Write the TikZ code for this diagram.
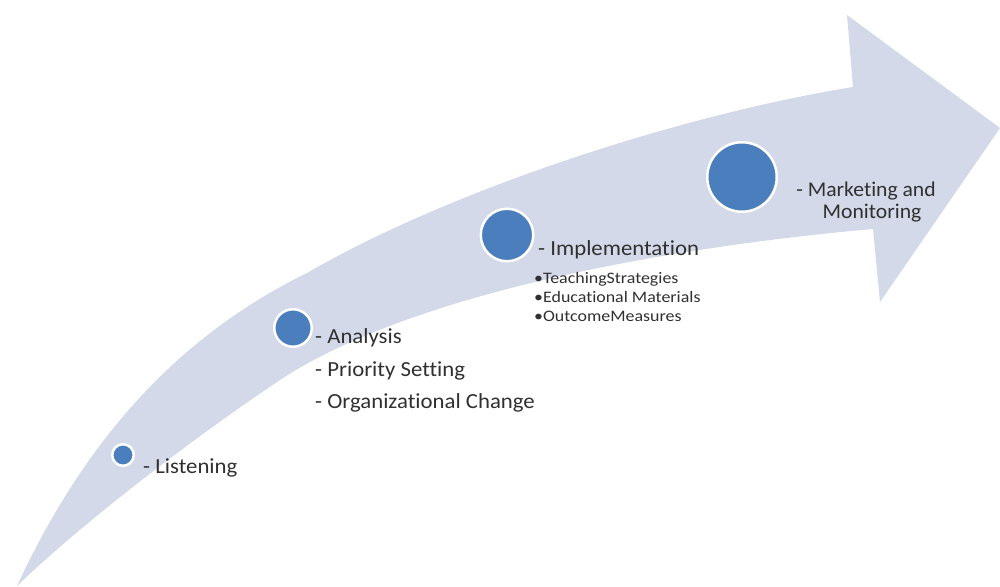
\documentclass[tikz,border=0pt]{standalone}
\usepackage{fontspec}
\setmainfont{Carlito}[Ligatures=NoCommon]
\newfontfamily\mainf{Carlito}[Ligatures=NoCommon,FakeStretch=1.06]
\newfontfamily\subf{Carlito}[Ligatures=NoCommon,FakeStretch=1.12]
\newfontfamily\markf{Carlito}[Ligatures=NoCommon,FakeStretch=1.03]
\definecolor{arrowfill}{HTML}{D3D9E8}
\definecolor{dotfill}{HTML}{4A7EBD}
\definecolor{txt}{HTML}{303030}
\begin{document}
\begin{tikzpicture}[x=1pt,y=-1pt,
  dot/.style={circle,fill=dotfill,draw=white,line width=2.5pt,inner sep=0pt},
  lbl/.style={anchor=base west,inner sep=0pt,text=txt,font=\mainf\fontsize{21.5}{25}\selectfont},
  lblc/.style={anchor=base,inner sep=0pt,text=txt,font=\markf\fontsize{21}{25}\selectfont},
  sub/.style={anchor=base west,inner sep=0pt,text=txt,font=\subf\fontsize{16}{18}\selectfont}]
\useasboundingbox (0,0) rectangle (1000,586);
\fill[arrowfill] (17,586) .. controls (80,450) and (170,340) .. (307,273)
  .. controls (450,190) and (680,115) .. (853,87)
  -- (847,15) -- (1000,128) -- (880,302) -- (873,229)
  .. controls (680,246) and (420,290) .. (283,378)
  .. controls (190,440) and (80,525) .. (17,586) -- cycle;
\node[dot,minimum size=21.5pt] (c1) at (123,455) {};
\node[dot,minimum size=37.5pt] (c2) at (293,328) {};
\node[dot,minimum size=52.5pt] (c3) at (507,235) {};
\node[dot,minimum size=69.5pt] (c4) at (742,177) {};
\node[lbl] (t1) at (143,473) {- Listening};
\node[lbl] (t2) at (315,343) {- Analysis};
\node[lbl] (t3) at (315,376) {- Priority Setting};
\node[lbl] (t4) at (315,408) {- Organizational Change};
\node[lbl] (t5) at (538,255) {- Implementation};
\node[sub] (b1) at (534,283) {•TeachingStrategies};
\node[sub] (b2) at (534,302) {•Educational Materials};
\node[sub] (b3) at (534,321) {•OutcomeMeasures};
\node[lblc] (t6) at (866,196) {- Marketing and};
\node[lblc] (t7) at (872,218) {Monitoring};
\end{tikzpicture}
\end{document}
